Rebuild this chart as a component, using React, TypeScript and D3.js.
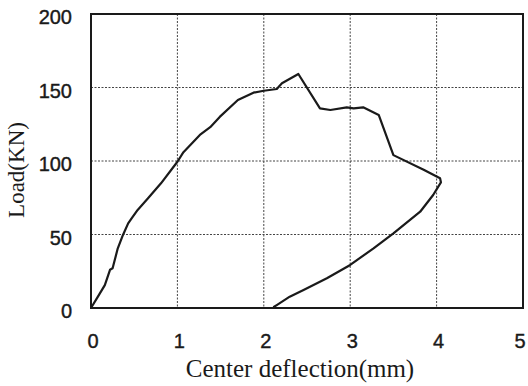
import { useEffect, useRef } from 'react'
import * as d3 from 'd3'

// load-deflection curve (loading, then unloading back to ~2.1 mm)
const deflection = [
  0, 0.08, 0.16, 0.22, 0.25, 0.31, 0.37, 0.43, 0.47, 0.54, 0.66, 0.81, 1.0, 1.07,
  1.26, 1.38, 1.49, 1.7, 1.88, 2.0, 2.15, 2.21, 2.4, 2.65, 2.77, 2.96, 3.04, 3.15,
  3.33, 3.5, 3.85, 4.04, 4.05, 3.96, 3.81, 3.5, 3.27, 3.0, 2.73, 2.46, 2.3, 2.15, 2.11,
]
const load = [
  0, 7.7, 15.6, 26, 27, 40.6, 49.7, 57.6, 61, 66.7, 74.6, 84.8, 99.5, 106,
  117.7, 123, 130, 141.5, 146.5, 147.8, 149, 152.9, 159.2, 135.8, 134.7, 136.5, 135.8, 136.5,
  131.3, 104, 94, 88.2, 85.5, 76.9, 65.5, 50.8, 40.6, 29.3, 20.2, 12.2, 7.7, 2, 0.5,
]
const xTicks = [0, 1, 2, 3, 4, 5]
const yTicks = [0, 50, 100, 150, 200]
const xTitle = 'Center deflection(mm)'
const yTitle = 'Load(KN)'

export default function App() {
  const svgRef = useRef<SVGSVGElement>(null)

  useEffect(() => {
    const W = 528
    const H = 386
    const left = 91, right = 523, top = 14, bottom = 308

    const x = d3.scaleLinear().domain([0, 5]).range([left, right])
    const y = d3.scaleLinear().domain([0, 200]).range([bottom, top])

    const svg = d3.select(svgRef.current)
    svg.selectAll('*').remove()
    svg.attr('width', W).attr('height', H)

    svg.append('rect').attr('width', W).attr('height', H).attr('fill', '#fff')

    // dotted grid
    const grid = svg.append('g').attr('stroke', '#444').attr('stroke-width', 1).attr('stroke-dasharray', '2,1.5')
    grid.selectAll('.gx')
      .data(xTicks.slice(1, -1))
      .join('line')
      .attr('x1', (d) => x(d)).attr('x2', (d) => x(d))
      .attr('y1', top).attr('y2', bottom)
    grid.selectAll('.gy')
      .data(yTicks.slice(1, -1))
      .join('line')
      .attr('x1', left).attr('x2', right)
      .attr('y1', (d) => y(d)).attr('y2', (d) => y(d))

    // frame
    svg.append('rect')
      .attr('x', left).attr('y', top)
      .attr('width', right - left).attr('height', bottom - top)
      .attr('fill', 'none').attr('stroke', '#1a1a1a').attr('stroke-width', 2)

    // curve
    const pts = deflection.map((d, i) => [d, load[i]] as [number, number])
    const line = d3.line<[number, number]>()
      .x((d) => x(d[0]))
      .y((d) => y(d[1]))
    svg.append('path')
      .datum(pts)
      .attr('fill', 'none')
      .attr('stroke', '#1a1a1a')
      .attr('stroke-width', 2.2)
      .attr('stroke-linejoin', 'round')
      .attr('d', line)

    // tick labels
    const sans = 'Liberation Sans, Arial, sans-serif'
    svg.append('g')
      .selectAll('text')
      .data(yTicks)
      .join('text')
      .attr('x', 72)
      .attr('y', (d) => y(d) + 10)
      .attr('text-anchor', 'end')
      .attr('font-family', sans)
      .attr('font-size', 20)
      .attr('fill', '#1a1a1a')
      .attr('stroke', '#1a1a1a').attr('stroke-width', 0.4)
      .text((d) => d)

    svg.append('g')
      .selectAll('text')
      .data(xTicks)
      .join('text')
      .attr('x', (d) => Math.min(x(d) + 2, W - 8))
      .attr('y', 348)
      .attr('text-anchor', 'middle')
      .attr('font-family', sans)
      .attr('font-size', 20)
      .attr('fill', '#1a1a1a')
      .attr('stroke', '#1a1a1a').attr('stroke-width', 0.4)
      .text((d) => d)

    // axis titles
    const serif = 'Liberation Serif, Times New Roman, serif'
    svg.append('text')
      .attr('x', 300)
      .attr('y', 377)
      .attr('text-anchor', 'middle')
      .attr('font-family', serif)
      .attr('font-size', 25)
      .attr('fill', '#1a1a1a')
      .text(xTitle)

    svg.append('text')
      .attr('transform', 'translate(24,170) rotate(-90)')
      .attr('text-anchor', 'middle')
      .attr('font-family', serif)
      .attr('font-size', 23)
      .attr('fill', '#1a1a1a')
      .text(yTitle)
  }, [])

  return (
    <div style={{ position: 'absolute', left: 0, top: 0 }}>
      <svg ref={svgRef} style={{ display: 'block' }} />
    </div>
  )
}
